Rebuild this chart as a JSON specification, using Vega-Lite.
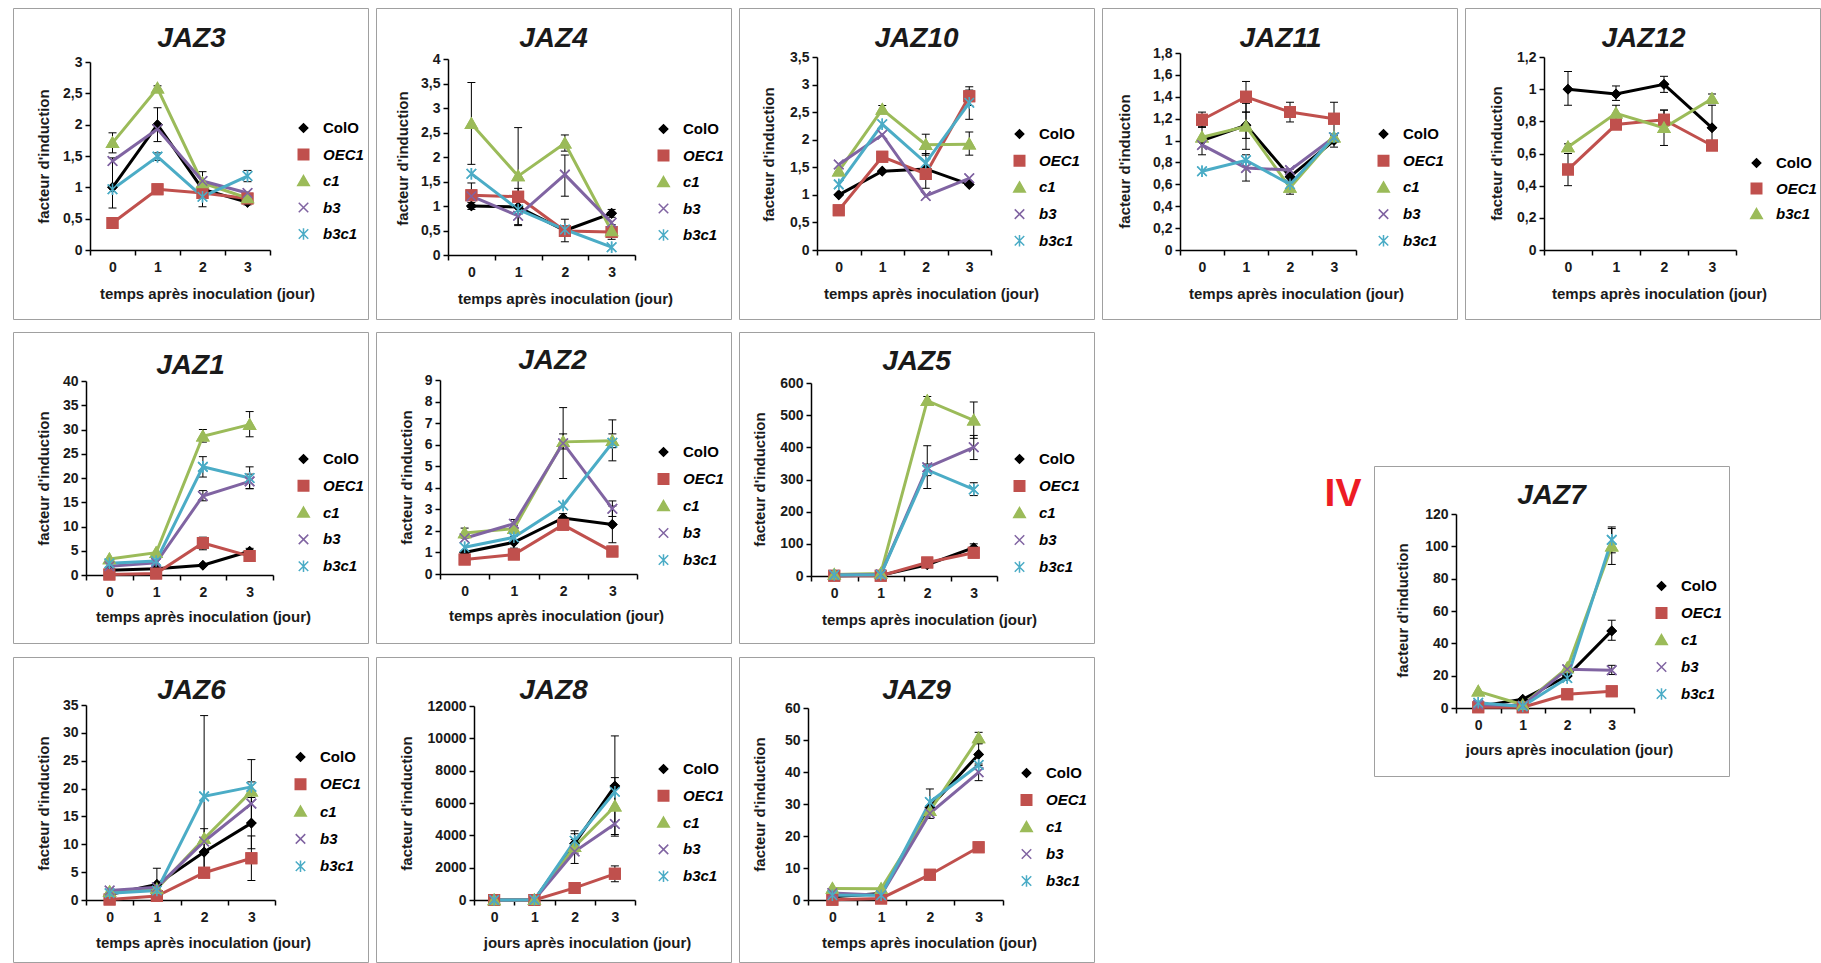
{
"$schema": "https://vega.github.io/schema/vega-lite/v6.json",
"padding": {"left": 12, "top": 7, "right": 0, "bottom": 0},
"config": {
 "font": "Liberation Sans",
 "view": {"stroke": "#a0a0a0", "strokeWidth": 1},
 "axis": {"labelFont": "Liberation Sans", "labelFontSize": 14, "labelFontWeight": "bold", "labelColor": "#1a1a1a", "titleFont": "Liberation Sans", "titleFontSize": 15, "titleFontWeight": "bold", "titleColor": "#1a1a1a", "domainColor": "black", "domainWidth": 1.5, "tickColor": "black", "tickWidth": 1.5, "tickSize": 5, "grid": false, "labelPadding": 3, "titleBaseline": "middle", "titleAlign": "center"},
 "axisX": {"labelPadding": 5, "tickBand": "extent", "labelAngle": 0},
 "axisY": {"titleAngle": 270, "labelExpr": "replace(format(datum.value, '~g'), '.', ',')"},
 "legend": {"labelFont": "Liberation Sans", "labelFontSize": 15, "labelFontWeight": "bold", "labelColor": "black", "symbolSize": 100, "symbolStrokeWidth": 1.5, "padding": 0, "labelOffset": 12, "clipHeight": 20},
 "title": {"font": "Liberation Sans", "fontSize": 28, "fontWeight": "bold", "fontStyle": "italic", "color": "#1a1a1a", "anchor": "middle", "offset": 0, "baseline": "alphabetic"}
},
"datasets": {"d": [
{"g":"JAZ3","s":"ColO","t":0,"v":1.0,"lo":0.67,"hi":1.47},{"g":"JAZ3","s":"ColO","t":1,"v":2.0,"lo":1.73,"hi":2.27},{"g":"JAZ3","s":"ColO","t":2,"v":0.97,"lo":0.69,"hi":1.25},{"g":"JAZ3","s":"ColO","t":3,"v":0.76,"lo":0.72,"hi":0.8},
{"g":"JAZ3","s":"OEC1","t":0,"v":0.43},{"g":"JAZ3","s":"OEC1","t":1,"v":0.97},{"g":"JAZ3","s":"OEC1","t":2,"v":0.91},{"g":"JAZ3","s":"OEC1","t":3,"v":0.82},
{"g":"JAZ3","s":"c1","t":0,"v":1.71,"lo":1.55,"hi":1.87},{"g":"JAZ3","s":"c1","t":1,"v":2.58,"lo":2.54,"hi":2.62},{"g":"JAZ3","s":"c1","t":2,"v":1.07},{"g":"JAZ3","s":"c1","t":3,"v":0.83},
{"g":"JAZ3","s":"b3","t":0,"v":1.42},{"g":"JAZ3","s":"b3","t":1,"v":1.93},{"g":"JAZ3","s":"b3","t":2,"v":1.1},{"g":"JAZ3","s":"b3","t":3,"v":0.91},
{"g":"JAZ3","s":"b3c1","t":0,"v":0.97},{"g":"JAZ3","s":"b3c1","t":1,"v":1.49,"lo":1.43,"hi":1.55},{"g":"JAZ3","s":"b3c1","t":2,"v":0.85},{"g":"JAZ3","s":"b3c1","t":3,"v":1.18,"lo":1.09,"hi":1.27},
{"g":"JAZ4","s":"ColO","t":0,"v":1.0,"lo":0.93,"hi":1.07},{"g":"JAZ4","s":"ColO","t":1,"v":0.98,"lo":0.6,"hi":1.36},{"g":"JAZ4","s":"ColO","t":2,"v":0.5,"lo":0.27,"hi":0.73},{"g":"JAZ4","s":"ColO","t":3,"v":0.85,"lo":0.77,"hi":0.93},
{"g":"JAZ4","s":"OEC1","t":0,"v":1.22,"lo":0.97,"hi":1.47},{"g":"JAZ4","s":"OEC1","t":1,"v":1.19},{"g":"JAZ4","s":"OEC1","t":2,"v":0.49},{"g":"JAZ4","s":"OEC1","t":3,"v":0.47,"lo":0.32,"hi":0.62},
{"g":"JAZ4","s":"c1","t":0,"v":2.68,"lo":1.85,"hi":3.52},{"g":"JAZ4","s":"c1","t":1,"v":1.61,"lo":0.62,"hi":2.6},{"g":"JAZ4","s":"c1","t":2,"v":2.28,"lo":2.12,"hi":2.45},{"g":"JAZ4","s":"c1","t":3,"v":0.49},
{"g":"JAZ4","s":"b3","t":0,"v":1.2},{"g":"JAZ4","s":"b3","t":1,"v":0.8},{"g":"JAZ4","s":"b3","t":2,"v":1.64,"lo":1.2,"hi":2.04},{"g":"JAZ4","s":"b3","t":3,"v":0.66},
{"g":"JAZ4","s":"b3c1","t":0,"v":1.66},{"g":"JAZ4","s":"b3c1","t":1,"v":0.93},{"g":"JAZ4","s":"b3c1","t":2,"v":0.52},{"g":"JAZ4","s":"b3c1","t":3,"v":0.16},
{"g":"JAZ10","s":"ColO","t":0,"v":1.0},{"g":"JAZ10","s":"ColO","t":1,"v":1.43},{"g":"JAZ10","s":"ColO","t":2,"v":1.47,"lo":1.12,"hi":1.75},{"g":"JAZ10","s":"ColO","t":3,"v":1.19},
{"g":"JAZ10","s":"OEC1","t":0,"v":0.72},{"g":"JAZ10","s":"OEC1","t":1,"v":1.69},{"g":"JAZ10","s":"OEC1","t":2,"v":1.38},{"g":"JAZ10","s":"OEC1","t":3,"v":2.79,"lo":2.62,"hi":2.96},
{"g":"JAZ10","s":"c1","t":0,"v":1.43},{"g":"JAZ10","s":"c1","t":1,"v":2.55,"lo":2.48,"hi":2.62},{"g":"JAZ10","s":"c1","t":2,"v":1.91,"lo":1.72,"hi":2.1},{"g":"JAZ10","s":"c1","t":3,"v":1.92,"lo":1.72,"hi":2.14},
{"g":"JAZ10","s":"b3","t":0,"v":1.55},{"g":"JAZ10","s":"b3","t":1,"v":2.09},{"g":"JAZ10","s":"b3","t":2,"v":0.98},{"g":"JAZ10","s":"b3","t":3,"v":1.3},
{"g":"JAZ10","s":"b3c1","t":0,"v":1.19},{"g":"JAZ10","s":"b3c1","t":1,"v":2.28},{"g":"JAZ10","s":"b3c1","t":2,"v":1.58},{"g":"JAZ10","s":"b3c1","t":3,"v":2.67,"lo":2.37,"hi":2.9},
{"g":"JAZ11","s":"ColO","t":0,"v":1.0,"lo":0.87,"hi":1.13},{"g":"JAZ11","s":"ColO","t":1,"v":1.14,"lo":1.02,"hi":1.26},{"g":"JAZ11","s":"ColO","t":2,"v":0.67,"lo":0.6,"hi":0.74},{"g":"JAZ11","s":"ColO","t":3,"v":1.0,"lo":0.94,"hi":1.06},
{"g":"JAZ11","s":"OEC1","t":0,"v":1.19,"lo":1.12,"hi":1.26},{"g":"JAZ11","s":"OEC1","t":1,"v":1.4,"lo":1.26,"hi":1.54},{"g":"JAZ11","s":"OEC1","t":2,"v":1.26,"lo":1.17,"hi":1.35},{"g":"JAZ11","s":"OEC1","t":3,"v":1.2,"lo":1.05,"hi":1.35},
{"g":"JAZ11","s":"c1","t":0,"v":1.03},{"g":"JAZ11","s":"c1","t":1,"v":1.13,"lo":0.92,"hi":1.34},{"g":"JAZ11","s":"c1","t":2,"v":0.57,"lo":0.51,"hi":0.63},{"g":"JAZ11","s":"c1","t":3,"v":1.03},
{"g":"JAZ11","s":"b3","t":0,"v":0.96},{"g":"JAZ11","s":"b3","t":1,"v":0.75,"lo":0.63,"hi":0.87},{"g":"JAZ11","s":"b3","t":2,"v":0.73},{"g":"JAZ11","s":"b3","t":3,"v":1.03},
{"g":"JAZ11","s":"b3c1","t":0,"v":0.72},{"g":"JAZ11","s":"b3c1","t":1,"v":0.82},{"g":"JAZ11","s":"b3c1","t":2,"v":0.6},{"g":"JAZ11","s":"b3c1","t":3,"v":1.03},
{"g":"JAZ12","s":"ColO","t":0,"v":1.0,"lo":0.9,"hi":1.11},{"g":"JAZ12","s":"ColO","t":1,"v":0.97,"lo":0.93,"hi":1.02},{"g":"JAZ12","s":"ColO","t":2,"v":1.03,"lo":0.98,"hi":1.08},{"g":"JAZ12","s":"ColO","t":3,"v":0.76,"lo":0.62,"hi":0.9},
{"g":"JAZ12","s":"OEC1","t":0,"v":0.5,"lo":0.4,"hi":0.6},{"g":"JAZ12","s":"OEC1","t":1,"v":0.78},{"g":"JAZ12","s":"OEC1","t":2,"v":0.81,"lo":0.75,"hi":0.87},{"g":"JAZ12","s":"OEC1","t":3,"v":0.65},
{"g":"JAZ12","s":"b3c1","t":0,"v":0.64,"lo":0.62,"hi":0.66},{"g":"JAZ12","s":"b3c1","t":1,"v":0.85,"lo":0.8,"hi":0.9},{"g":"JAZ12","s":"b3c1","t":2,"v":0.76,"lo":0.65,"hi":0.87},{"g":"JAZ12","s":"b3c1","t":3,"v":0.94,"lo":0.91,"hi":0.97},
{"g":"JAZ1","s":"ColO","t":0,"v":1.0},{"g":"JAZ1","s":"ColO","t":1,"v":1.3},{"g":"JAZ1","s":"ColO","t":2,"v":2.0},{"g":"JAZ1","s":"ColO","t":3,"v":4.9,"lo":4.3,"hi":5.5},
{"g":"JAZ1","s":"OEC1","t":0,"v":0.1},{"g":"JAZ1","s":"OEC1","t":1,"v":0.3},{"g":"JAZ1","s":"OEC1","t":2,"v":6.6,"lo":5.2,"hi":7.8},{"g":"JAZ1","s":"OEC1","t":3,"v":3.9},
{"g":"JAZ1","s":"c1","t":0,"v":3.3},{"g":"JAZ1","s":"c1","t":1,"v":4.6},{"g":"JAZ1","s":"c1","t":2,"v":28.6,"lo":27.4,"hi":30.0},{"g":"JAZ1","s":"c1","t":3,"v":31.0,"lo":28.5,"hi":33.7},
{"g":"JAZ1","s":"b3","t":0,"v":1.8},{"g":"JAZ1","s":"b3","t":1,"v":2.5},{"g":"JAZ1","s":"b3","t":2,"v":16.3,"lo":15.3,"hi":17.4},{"g":"JAZ1","s":"b3","t":3,"v":19.3,"lo":17.8,"hi":20.8},
{"g":"JAZ1","s":"b3c1","t":0,"v":2.4},{"g":"JAZ1","s":"b3c1","t":1,"v":2.9},{"g":"JAZ1","s":"b3c1","t":2,"v":22.3,"lo":20.2,"hi":24.4},{"g":"JAZ1","s":"b3c1","t":3,"v":20.0,"lo":17.8,"hi":22.3},
{"g":"JAZ2","s":"ColO","t":0,"v":1.0},{"g":"JAZ2","s":"ColO","t":1,"v":1.47,"lo":1.2,"hi":1.75},{"g":"JAZ2","s":"ColO","t":2,"v":2.6,"lo":2.4,"hi":2.8},{"g":"JAZ2","s":"ColO","t":3,"v":2.3,"lo":1.45,"hi":3.15},
{"g":"JAZ2","s":"OEC1","t":0,"v":0.67},{"g":"JAZ2","s":"OEC1","t":1,"v":0.9},{"g":"JAZ2","s":"OEC1","t":2,"v":2.28},{"g":"JAZ2","s":"OEC1","t":3,"v":1.04},
{"g":"JAZ2","s":"c1","t":0,"v":1.9,"lo":1.67,"hi":2.13},{"g":"JAZ2","s":"c1","t":1,"v":2.1,"lo":1.95,"hi":2.25},{"g":"JAZ2","s":"c1","t":2,"v":6.13,"lo":5.8,"hi":6.5},{"g":"JAZ2","s":"c1","t":3,"v":6.18,"lo":5.86,"hi":6.5},
{"g":"JAZ2","s":"b3","t":0,"v":1.66},{"g":"JAZ2","s":"b3","t":1,"v":2.33,"lo":2.13,"hi":2.53},{"g":"JAZ2","s":"b3","t":2,"v":6.07,"lo":4.43,"hi":7.72},{"g":"JAZ2","s":"b3","t":3,"v":3.03,"lo":2.67,"hi":3.39},
{"g":"JAZ2","s":"b3c1","t":0,"v":1.24},{"g":"JAZ2","s":"b3c1","t":1,"v":1.7},{"g":"JAZ2","s":"b3c1","t":2,"v":3.18},{"g":"JAZ2","s":"b3c1","t":3,"v":6.09,"lo":5.25,"hi":7.15},
{"g":"JAZ5","s":"ColO","t":0,"v":1},{"g":"JAZ5","s":"ColO","t":1,"v":2},{"g":"JAZ5","s":"ColO","t":2,"v":35},{"g":"JAZ5","s":"ColO","t":3,"v":88,"lo":78,"hi":100},
{"g":"JAZ5","s":"OEC1","t":0,"v":1},{"g":"JAZ5","s":"OEC1","t":1,"v":1},{"g":"JAZ5","s":"OEC1","t":2,"v":42},{"g":"JAZ5","s":"OEC1","t":3,"v":72},
{"g":"JAZ5","s":"c1","t":0,"v":5},{"g":"JAZ5","s":"c1","t":1,"v":8},{"g":"JAZ5","s":"c1","t":2,"v":545,"lo":532,"hi":558},{"g":"JAZ5","s":"c1","t":3,"v":484,"lo":428,"hi":541},
{"g":"JAZ5","s":"b3","t":0,"v":3},{"g":"JAZ5","s":"b3","t":1,"v":5},{"g":"JAZ5","s":"b3","t":2,"v":338,"lo":272,"hi":405},{"g":"JAZ5","s":"b3","t":3,"v":400,"lo":362,"hi":437},
{"g":"JAZ5","s":"b3c1","t":0,"v":3},{"g":"JAZ5","s":"b3c1","t":1,"v":4},{"g":"JAZ5","s":"b3c1","t":2,"v":330,"lo":312,"hi":348},{"g":"JAZ5","s":"b3c1","t":3,"v":269,"lo":250,"hi":290},
{"g":"JAZ6","s":"ColO","t":0,"v":1.0},{"g":"JAZ6","s":"ColO","t":1,"v":2.8,"lo":0.1,"hi":5.7},{"g":"JAZ6","s":"ColO","t":2,"v":8.6,"lo":4.4,"hi":12.8},{"g":"JAZ6","s":"ColO","t":3,"v":13.8,"lo":9.2,"hi":18.4},
{"g":"JAZ6","s":"OEC1","t":0,"v":0.1},{"g":"JAZ6","s":"OEC1","t":1,"v":0.7},{"g":"JAZ6","s":"OEC1","t":2,"v":4.9},{"g":"JAZ6","s":"OEC1","t":3,"v":7.5,"lo":3.5,"hi":11.5},
{"g":"JAZ6","s":"c1","t":0,"v":1.5},{"g":"JAZ6","s":"c1","t":1,"v":2.0},{"g":"JAZ6","s":"c1","t":2,"v":11.0},{"g":"JAZ6","s":"c1","t":3,"v":19.5,"lo":13.8,"hi":25.2},
{"g":"JAZ6","s":"b3","t":0,"v":1.7},{"g":"JAZ6","s":"b3","t":1,"v":2.3},{"g":"JAZ6","s":"b3","t":2,"v":10.5},{"g":"JAZ6","s":"b3","t":3,"v":17.3},
{"g":"JAZ6","s":"b3c1","t":0,"v":1.2},{"g":"JAZ6","s":"b3c1","t":1,"v":1.7},{"g":"JAZ6","s":"b3c1","t":2,"v":18.6,"lo":4.1,"hi":33.1},{"g":"JAZ6","s":"b3c1","t":3,"v":20.3,"lo":19.5,"hi":21.2},
{"g":"JAZ8","s":"ColO","t":0,"v":1},{"g":"JAZ8","s":"ColO","t":1,"v":10},{"g":"JAZ8","s":"ColO","t":2,"v":3500,"lo":2900,"hi":4100},{"g":"JAZ8","s":"ColO","t":3,"v":7050,"lo":3950,"hi":10150},
{"g":"JAZ8","s":"OEC1","t":0,"v":1},{"g":"JAZ8","s":"OEC1","t":1,"v":5},{"g":"JAZ8","s":"OEC1","t":2,"v":750},{"g":"JAZ8","s":"OEC1","t":3,"v":1620,"lo":1130,"hi":2110},
{"g":"JAZ8","s":"c1","t":0,"v":1},{"g":"JAZ8","s":"c1","t":1,"v":10},{"g":"JAZ8","s":"c1","t":2,"v":3300},{"g":"JAZ8","s":"c1","t":3,"v":5800,"lo":4050,"hi":7570},
{"g":"JAZ8","s":"b3","t":0,"v":1},{"g":"JAZ8","s":"b3","t":1,"v":10},{"g":"JAZ8","s":"b3","t":2,"v":3000,"lo":2260,"hi":3740},{"g":"JAZ8","s":"b3","t":3,"v":4700},
{"g":"JAZ8","s":"b3c1","t":0,"v":1},{"g":"JAZ8","s":"b3c1","t":1,"v":10},{"g":"JAZ8","s":"b3c1","t":2,"v":3660,"lo":3100,"hi":4280},{"g":"JAZ8","s":"b3c1","t":3,"v":6700},
{"g":"JAZ9","s":"ColO","t":0,"v":1.0},{"g":"JAZ9","s":"ColO","t":1,"v":2.0},{"g":"JAZ9","s":"ColO","t":2,"v":29.0},{"g":"JAZ9","s":"ColO","t":3,"v":45.5,"lo":42.0,"hi":49.0},
{"g":"JAZ9","s":"OEC1","t":0,"v":0.1},{"g":"JAZ9","s":"OEC1","t":1,"v":0.5},{"g":"JAZ9","s":"OEC1","t":2,"v":7.9},{"g":"JAZ9","s":"OEC1","t":3,"v":16.5},
{"g":"JAZ9","s":"c1","t":0,"v":3.6},{"g":"JAZ9","s":"c1","t":1,"v":3.5},{"g":"JAZ9","s":"c1","t":2,"v":27.9},{"g":"JAZ9","s":"c1","t":3,"v":50.6,"lo":48.8,"hi":52.4},
{"g":"JAZ9","s":"b3","t":0,"v":2.2},{"g":"JAZ9","s":"b3","t":1,"v":1.5},{"g":"JAZ9","s":"b3","t":2,"v":27.1,"lo":25.5,"hi":28.7},{"g":"JAZ9","s":"b3","t":3,"v":39.9,"lo":37.3,"hi":42.5},
{"g":"JAZ9","s":"b3c1","t":0,"v":1.5},{"g":"JAZ9","s":"b3c1","t":1,"v":1.5},{"g":"JAZ9","s":"b3c1","t":2,"v":30.6,"lo":26.5,"hi":34.7},{"g":"JAZ9","s":"b3c1","t":3,"v":42.2},
{"g":"JAZ7","s":"ColO","t":0,"v":1.0},{"g":"JAZ7","s":"ColO","t":1,"v":5.4},{"g":"JAZ7","s":"ColO","t":2,"v":19.8},{"g":"JAZ7","s":"ColO","t":3,"v":47.7,"lo":41.9,"hi":54.3},
{"g":"JAZ7","s":"OEC1","t":0,"v":0.5},{"g":"JAZ7","s":"OEC1","t":1,"v":0.5},{"g":"JAZ7","s":"OEC1","t":2,"v":8.5},{"g":"JAZ7","s":"OEC1","t":3,"v":10.3},
{"g":"JAZ7","s":"c1","t":0,"v":10.3},{"g":"JAZ7","s":"c1","t":1,"v":2.0},{"g":"JAZ7","s":"c1","t":2,"v":24.8},{"g":"JAZ7","s":"c1","t":3,"v":100,"lo":88.8,"hi":111},
{"g":"JAZ7","s":"b3","t":0,"v":2.0},{"g":"JAZ7","s":"b3","t":1,"v":1.5},{"g":"JAZ7","s":"b3","t":2,"v":24.0},{"g":"JAZ7","s":"b3","t":3,"v":23.3,"lo":20.7,"hi":26.4},
{"g":"JAZ7","s":"b3c1","t":0,"v":3.3},{"g":"JAZ7","s":"b3c1","t":1,"v":1.0},{"g":"JAZ7","s":"b3c1","t":2,"v":18.6},{"g":"JAZ7","s":"b3c1","t":3,"v":104,"lo":96,"hi":112}
]},
"spacing": 11,
"resolve": {"scale": {"x": "independent", "y": "independent", "color": "independent", "stroke": "independent", "shape": "independent"}, "axis": {"x": "independent", "y": "independent"}, "legend": {"color": "independent", "stroke": "independent", "shape": "independent"}},
"vconcat": [
{"hconcat": [
 {"width": 355, "height": 311, "data": {"name": "d"}, "transform": [{"filter": "datum.g == 'JAZ3'"}], "title": {"text": "JAZ3", "dx": 1, "dy": 49},
  "encoding": {
   "x": {"field": "t", "type": "ordinal", "scale": {"type": "band", "domain": [0,1,2,3], "range": [77,257], "paddingInner": 0, "paddingOuter": 0}, "axis": {"title": "temps après inoculation (jour)", "offset": -69, "titleX": 194, "titleY": 43}},
   "y": {"field": "v", "type": "quantitative", "scale": {"domain": [0,3], "range": [242,54], "nice": false, "zero": false}, "axis": {"title": "facteur d'induction", "offset": -77, "values": [0,0.5,1,1.5,2,2.5,3], "titleX": -47, "titleY": 148}}
  },
  "layer": [
   {"transform": [{"filter": "isValid(datum.lo)"}], "mark": {"type": "rule", "color": "black", "strokeWidth": 1}, "encoding": {"y": {"field": "lo", "type": "quantitative", "title": "facteur d'induction"}, "y2": {"field": "hi"}}},
   {"transform": [{"filter": "isValid(datum.lo)"}], "mark": {"type": "tick", "color": "black", "thickness": 1, "size": 8, "opacity": 1}, "encoding": {"y": {"field": "lo", "type": "quantitative", "title": "facteur d'induction"}}},
   {"transform": [{"filter": "isValid(datum.hi)"}], "mark": {"type": "tick", "color": "black", "thickness": 1, "size": 8, "opacity": 1}, "encoding": {"y": {"field": "hi", "type": "quantitative", "title": "facteur d'induction"}}},
   {"mark": {"type": "point", "filled": true, "size": 100, "strokeWidth": 1.5, "opacity": 1}, "encoding": {
     "color": {"field": "s", "type": "nominal", "scale": {"domain": ["ColO","OEC1","c1","b3","b3c1"], "range": ["#000000","#C0504D","#9BBB59","#8064A2","#4BACC6"]},
       "legend": {"orient": "none", "legendX": 283, "legendY": 110, "title": null, "rowPadding": 6.5, "labelFontStyle": {"expr": "datum.value == 'ColO' ? 'normal' : 'italic'"}}},
     "stroke": {"field": "s", "type": "nominal", "scale": {"domain": ["ColO","OEC1","c1","b3","b3c1"], "range": ["#000000","#C0504D","#9BBB59","#8064A2","#4BACC6"]}},
     "shape": {"field": "s", "type": "nominal", "legend": null, "scale": {"domain": ["ColO","OEC1","c1","b3","b3c1"], "range": ["M0,-0.85L0.85,0L0,0.85L-0.85,0Z","M-1.05,-1.05L1.05,-1.05L1.05,1.05L-1.05,1.05Z","M0,-1.1L1.15,0.9L-1.15,0.9Z","M-0.95,-0.95L0.95,0.95M-0.95,0.95L0.95,-0.95","M-0.95,-0.95L0.95,0.95M-0.95,0.95L0.95,-0.95M0,-1.15L0,1.15"]}}}},
   {"mark": {"type": "line", "strokeWidth": 3}, "encoding": {"color": {"field": "s", "type": "nominal"}}},
   {"mark": {"type": "point", "filled": true, "size": 100, "strokeWidth": 1.5, "opacity": 1}, "encoding": {"color": {"field": "s", "type": "nominal"}, "stroke": {"field": "s", "type": "nominal"}, "shape": {"field": "s", "type": "nominal", "legend": null}}}
  ]
 },
 {"width": 355, "height": 311, "data": {"name": "d"}, "transform": [{"filter": "datum.g == 'JAZ4'"}], "title": {"text": "JAZ4", "dx": 0, "dy": 49},
  "encoding": {
   "x": {"field": "t", "type": "ordinal", "scale": {"type": "band", "domain": [0,1,2,3], "range": [72,259], "paddingInner": 0, "paddingOuter": 0}, "axis": {"title": "temps après inoculation (jour)", "offset": -64, "titleX": 189, "titleY": 43}},
   "y": {"field": "v", "type": "quantitative", "scale": {"domain": [0,4], "range": [247,51], "nice": false, "zero": false}, "axis": {"title": "facteur d'induction", "offset": -72, "values": [0,0.5,1,1.5,2,2.5,3,3.5,4], "titleX": -46, "titleY": 150}}
  },
  "layer": [
   {"transform": [{"filter": "isValid(datum.lo)"}], "mark": {"type": "rule", "color": "black", "strokeWidth": 1}, "encoding": {"y": {"field": "lo", "type": "quantitative", "title": "facteur d'induction"}, "y2": {"field": "hi"}}},
   {"transform": [{"filter": "isValid(datum.lo)"}], "mark": {"type": "tick", "color": "black", "thickness": 1, "size": 8, "opacity": 1}, "encoding": {"y": {"field": "lo", "type": "quantitative", "title": "facteur d'induction"}}},
   {"transform": [{"filter": "isValid(datum.hi)"}], "mark": {"type": "tick", "color": "black", "thickness": 1, "size": 8, "opacity": 1}, "encoding": {"y": {"field": "hi", "type": "quantitative", "title": "facteur d'induction"}}},
   {"mark": {"type": "point", "filled": true, "size": 100, "strokeWidth": 1.5, "opacity": 1}, "encoding": {
     "color": {"field": "s", "type": "nominal", "scale": {"domain": ["ColO","OEC1","c1","b3","b3c1"], "range": ["#000000","#C0504D","#9BBB59","#8064A2","#4BACC6"]},
       "legend": {"orient": "none", "legendX": 280, "legendY": 111, "title": null, "rowPadding": 6.5, "labelFontStyle": {"expr": "datum.value == 'ColO' ? 'normal' : 'italic'"}}},
     "stroke": {"field": "s", "type": "nominal", "scale": {"domain": ["ColO","OEC1","c1","b3","b3c1"], "range": ["#000000","#C0504D","#9BBB59","#8064A2","#4BACC6"]}},
     "shape": {"field": "s", "type": "nominal", "legend": null, "scale": {"domain": ["ColO","OEC1","c1","b3","b3c1"], "range": ["M0,-0.85L0.85,0L0,0.85L-0.85,0Z","M-1.05,-1.05L1.05,-1.05L1.05,1.05L-1.05,1.05Z","M0,-1.1L1.15,0.9L-1.15,0.9Z","M-0.95,-0.95L0.95,0.95M-0.95,0.95L0.95,-0.95","M-0.95,-0.95L0.95,0.95M-0.95,0.95L0.95,-0.95M0,-1.15L0,1.15"]}}}},
   {"mark": {"type": "line", "strokeWidth": 3}, "encoding": {"color": {"field": "s", "type": "nominal"}}},
   {"mark": {"type": "point", "filled": true, "size": 100, "strokeWidth": 1.5, "opacity": 1}, "encoding": {"color": {"field": "s", "type": "nominal"}, "stroke": {"field": "s", "type": "nominal"}, "shape": {"field": "s", "type": "nominal", "legend": null}}}
  ]
 },
 {"width": 355, "height": 311, "data": {"name": "d"}, "transform": [{"filter": "datum.g == 'JAZ10'"}], "title": {"text": "JAZ10", "dx": 0, "dy": 49},
  "encoding": {
   "x": {"field": "t", "type": "ordinal", "scale": {"type": "band", "domain": [0,1,2,3], "range": [78,252], "paddingInner": 0, "paddingOuter": 0}, "axis": {"title": "temps après inoculation (jour)", "offset": -69, "titleX": 192, "titleY": 43}},
   "y": {"field": "v", "type": "quantitative", "scale": {"domain": [0,3.5], "range": [242,49], "nice": false, "zero": false}, "axis": {"title": "facteur d'induction", "offset": -78, "values": [0,0.5,1,1.5,2,2.5,3,3.5], "titleX": -49, "titleY": 146}}
  },
  "layer": [
   {"transform": [{"filter": "isValid(datum.lo)"}], "mark": {"type": "rule", "color": "black", "strokeWidth": 1}, "encoding": {"y": {"field": "lo", "type": "quantitative", "title": "facteur d'induction"}, "y2": {"field": "hi"}}},
   {"transform": [{"filter": "isValid(datum.lo)"}], "mark": {"type": "tick", "color": "black", "thickness": 1, "size": 8, "opacity": 1}, "encoding": {"y": {"field": "lo", "type": "quantitative", "title": "facteur d'induction"}}},
   {"transform": [{"filter": "isValid(datum.hi)"}], "mark": {"type": "tick", "color": "black", "thickness": 1, "size": 8, "opacity": 1}, "encoding": {"y": {"field": "hi", "type": "quantitative", "title": "facteur d'induction"}}},
   {"mark": {"type": "point", "filled": true, "size": 100, "strokeWidth": 1.5, "opacity": 1}, "encoding": {
     "color": {"field": "s", "type": "nominal", "scale": {"domain": ["ColO","OEC1","c1","b3","b3c1"], "range": ["#000000","#C0504D","#9BBB59","#8064A2","#4BACC6"]},
       "legend": {"orient": "none", "legendX": 273, "legendY": 116, "title": null, "rowPadding": 6.7, "labelFontStyle": {"expr": "datum.value == 'ColO' ? 'normal' : 'italic'"}}},
     "stroke": {"field": "s", "type": "nominal", "scale": {"domain": ["ColO","OEC1","c1","b3","b3c1"], "range": ["#000000","#C0504D","#9BBB59","#8064A2","#4BACC6"]}},
     "shape": {"field": "s", "type": "nominal", "legend": null, "scale": {"domain": ["ColO","OEC1","c1","b3","b3c1"], "range": ["M0,-0.85L0.85,0L0,0.85L-0.85,0Z","M-1.05,-1.05L1.05,-1.05L1.05,1.05L-1.05,1.05Z","M0,-1.1L1.15,0.9L-1.15,0.9Z","M-0.95,-0.95L0.95,0.95M-0.95,0.95L0.95,-0.95","M-0.95,-0.95L0.95,0.95M-0.95,0.95L0.95,-0.95M0,-1.15L0,1.15"]}}}},
   {"mark": {"type": "line", "strokeWidth": 3}, "encoding": {"color": {"field": "s", "type": "nominal"}}},
   {"mark": {"type": "point", "filled": true, "size": 100, "strokeWidth": 1.5, "opacity": 1}, "encoding": {"color": {"field": "s", "type": "nominal"}, "stroke": {"field": "s", "type": "nominal"}, "shape": {"field": "s", "type": "nominal", "legend": null}}}
  ]
 },
 {"width": 355, "height": 311, "data": {"name": "d"}, "transform": [{"filter": "datum.g == 'JAZ11'"}], "title": {"text": "JAZ11", "dx": 1, "dy": 49},
  "encoding": {
   "x": {"field": "t", "type": "ordinal", "scale": {"type": "band", "domain": [0,1,2,3], "range": [78,254], "paddingInner": 0, "paddingOuter": 0}, "axis": {"title": "temps après inoculation (jour)", "offset": -69, "titleX": 194, "titleY": 43}},
   "y": {"field": "v", "type": "quantitative", "scale": {"domain": [0,1.8], "range": [242,45], "nice": false, "zero": false}, "axis": {"title": "facteur d'induction", "offset": -78, "values": [0,0.2,0.4,0.6,0.8,1,1.2,1.4,1.6,1.8], "titleX": -56, "titleY": 153}}
  },
  "layer": [
   {"transform": [{"filter": "isValid(datum.lo)"}], "mark": {"type": "rule", "color": "black", "strokeWidth": 1}, "encoding": {"y": {"field": "lo", "type": "quantitative", "title": "facteur d'induction"}, "y2": {"field": "hi"}}},
   {"transform": [{"filter": "isValid(datum.lo)"}], "mark": {"type": "tick", "color": "black", "thickness": 1, "size": 8, "opacity": 1}, "encoding": {"y": {"field": "lo", "type": "quantitative", "title": "facteur d'induction"}}},
   {"transform": [{"filter": "isValid(datum.hi)"}], "mark": {"type": "tick", "color": "black", "thickness": 1, "size": 8, "opacity": 1}, "encoding": {"y": {"field": "hi", "type": "quantitative", "title": "facteur d'induction"}}},
   {"mark": {"type": "point", "filled": true, "size": 100, "strokeWidth": 1.5, "opacity": 1}, "encoding": {
     "color": {"field": "s", "type": "nominal", "scale": {"domain": ["ColO","OEC1","c1","b3","b3c1"], "range": ["#000000","#C0504D","#9BBB59","#8064A2","#4BACC6"]},
       "legend": {"orient": "none", "legendX": 274, "legendY": 116, "title": null, "rowPadding": 6.7, "labelFontStyle": {"expr": "datum.value == 'ColO' ? 'normal' : 'italic'"}}},
     "stroke": {"field": "s", "type": "nominal", "scale": {"domain": ["ColO","OEC1","c1","b3","b3c1"], "range": ["#000000","#C0504D","#9BBB59","#8064A2","#4BACC6"]}},
     "shape": {"field": "s", "type": "nominal", "legend": null, "scale": {"domain": ["ColO","OEC1","c1","b3","b3c1"], "range": ["M0,-0.85L0.85,0L0,0.85L-0.85,0Z","M-1.05,-1.05L1.05,-1.05L1.05,1.05L-1.05,1.05Z","M0,-1.1L1.15,0.9L-1.15,0.9Z","M-0.95,-0.95L0.95,0.95M-0.95,0.95L0.95,-0.95","M-0.95,-0.95L0.95,0.95M-0.95,0.95L0.95,-0.95M0,-1.15L0,1.15"]}}}},
   {"mark": {"type": "line", "strokeWidth": 3}, "encoding": {"color": {"field": "s", "type": "nominal"}}},
   {"mark": {"type": "point", "filled": true, "size": 100, "strokeWidth": 1.5, "opacity": 1}, "encoding": {"color": {"field": "s", "type": "nominal"}, "stroke": {"field": "s", "type": "nominal"}, "shape": {"field": "s", "type": "nominal", "legend": null}}}
  ]
 },
 {"width": 355, "height": 311, "data": {"name": "d"}, "transform": [{"filter": "datum.g == 'JAZ12'"}], "title": {"text": "JAZ12", "dx": 1, "dy": 49},
  "encoding": {
   "x": {"field": "t", "type": "ordinal", "scale": {"type": "band", "domain": [0,1,2,3], "range": [79,271], "paddingInner": 0, "paddingOuter": 0}, "axis": {"title": "temps après inoculation (jour)", "offset": -69, "titleX": 194, "titleY": 43}},
   "y": {"field": "v", "type": "quantitative", "scale": {"domain": [0,1.2], "range": [242,49], "nice": false, "zero": false}, "axis": {"title": "facteur d'induction", "offset": -79, "values": [0,0.2,0.4,0.6,0.8,1,1.2], "titleX": -48, "titleY": 145}}
  },
  "layer": [
   {"transform": [{"filter": "isValid(datum.lo)"}], "mark": {"type": "rule", "color": "black", "strokeWidth": 1}, "encoding": {"y": {"field": "lo", "type": "quantitative", "title": "facteur d'induction"}, "y2": {"field": "hi"}}},
   {"transform": [{"filter": "isValid(datum.lo)"}], "mark": {"type": "tick", "color": "black", "thickness": 1, "size": 8, "opacity": 1}, "encoding": {"y": {"field": "lo", "type": "quantitative", "title": "facteur d'induction"}}},
   {"transform": [{"filter": "isValid(datum.hi)"}], "mark": {"type": "tick", "color": "black", "thickness": 1, "size": 8, "opacity": 1}, "encoding": {"y": {"field": "hi", "type": "quantitative", "title": "facteur d'induction"}}},
   {"mark": {"type": "point", "filled": true, "size": 100, "strokeWidth": 1.5, "opacity": 1}, "encoding": {
     "color": {"field": "s", "type": "nominal", "scale": {"domain": ["ColO","OEC1","b3c1"], "range": ["#000000","#C0504D","#9BBB59"]},
       "legend": {"orient": "none", "legendX": 284, "legendY": 145, "title": null, "rowPadding": 5.5, "labelFontStyle": {"expr": "datum.value == 'ColO' ? 'normal' : 'italic'"}}},
     "stroke": {"field": "s", "type": "nominal", "scale": {"domain": ["ColO","OEC1","b3c1"], "range": ["#000000","#C0504D","#9BBB59"]}},
     "shape": {"field": "s", "type": "nominal", "legend": null, "scale": {"domain": ["ColO","OEC1","b3c1"], "range": ["M0,-0.85L0.85,0L0,0.85L-0.85,0Z","M-1.05,-1.05L1.05,-1.05L1.05,1.05L-1.05,1.05Z","M0,-1.1L1.15,0.9L-1.15,0.9Z"]}}}},
   {"mark": {"type": "line", "strokeWidth": 3}, "encoding": {"color": {"field": "s", "type": "nominal"}}},
   {"mark": {"type": "point", "filled": true, "size": 100, "strokeWidth": 1.5, "opacity": 1}, "encoding": {"color": {"field": "s", "type": "nominal"}, "stroke": {"field": "s", "type": "nominal"}, "shape": {"field": "s", "type": "nominal", "legend": null}}}
  ]
 }
], "spacing": 8, "bounds": "flush", "resolve": {"scale": {"x": "independent", "y": "independent", "color": "independent", "stroke": "independent", "shape": "independent"}, "axis": {"x": "independent", "y": "independent"}, "legend": {"color": "independent", "stroke": "independent", "shape": "independent"}}},
{"hconcat": [
 {"vconcat": [
  {"hconcat": [
   {"width": 355, "height": 311, "data": {"name": "d"}, "transform": [{"filter": "datum.g == 'JAZ1'"}], "title": {"text": "JAZ1", "dx": 0, "dy": 52},
    "encoding": {
     "x": {"field": "t", "type": "ordinal", "scale": {"type": "band", "domain": [0,1,2,3], "range": [73,260], "paddingInner": 0, "paddingOuter": 0}, "axis": {"title": "temps après inoculation (jour)", "offset": -68, "titleX": 190, "titleY": 41}},
     "y": {"field": "v", "type": "quantitative", "scale": {"domain": [0,40], "range": [243,49], "nice": false, "zero": false}, "axis": {"title": "facteur d'induction", "offset": -73, "values": [0,5,10,15,20,25,30,35,40], "titleX": -43, "titleY": 146}}
    },
    "layer": [
     {"transform": [{"filter": "isValid(datum.lo)"}], "mark": {"type": "rule", "color": "black", "strokeWidth": 1}, "encoding": {"y": {"field": "lo", "type": "quantitative", "title": "facteur d'induction"}, "y2": {"field": "hi"}}},
     {"transform": [{"filter": "isValid(datum.lo)"}], "mark": {"type": "tick", "color": "black", "thickness": 1, "size": 8, "opacity": 1}, "encoding": {"y": {"field": "lo", "type": "quantitative", "title": "facteur d'induction"}}},
     {"transform": [{"filter": "isValid(datum.hi)"}], "mark": {"type": "tick", "color": "black", "thickness": 1, "size": 8, "opacity": 1}, "encoding": {"y": {"field": "hi", "type": "quantitative", "title": "facteur d'induction"}}},
     {"mark": {"type": "point", "filled": true, "size": 100, "strokeWidth": 1.5, "opacity": 1}, "encoding": {
       "color": {"field": "s", "type": "nominal", "scale": {"domain": ["ColO","OEC1","c1","b3","b3c1"], "range": ["#000000","#C0504D","#9BBB59","#8064A2","#4BACC6"]},
         "legend": {"orient": "none", "legendX": 283, "legendY": 117, "title": null, "rowPadding": 6.8, "labelFontStyle": {"expr": "datum.value == 'ColO' ? 'normal' : 'italic'"}}},
       "stroke": {"field": "s", "type": "nominal", "scale": {"domain": ["ColO","OEC1","c1","b3","b3c1"], "range": ["#000000","#C0504D","#9BBB59","#8064A2","#4BACC6"]}},
       "shape": {"field": "s", "type": "nominal", "legend": null, "scale": {"domain": ["ColO","OEC1","c1","b3","b3c1"], "range": ["M0,-0.85L0.85,0L0,0.85L-0.85,0Z","M-1.05,-1.05L1.05,-1.05L1.05,1.05L-1.05,1.05Z","M0,-1.1L1.15,0.9L-1.15,0.9Z","M-0.95,-0.95L0.95,0.95M-0.95,0.95L0.95,-0.95","M-0.95,-0.95L0.95,0.95M-0.95,0.95L0.95,-0.95M0,-1.15L0,1.15"]}}}},
     {"mark": {"type": "line", "strokeWidth": 3}, "encoding": {"color": {"field": "s", "type": "nominal"}}},
     {"mark": {"type": "point", "filled": true, "size": 100, "strokeWidth": 1.5, "opacity": 1}, "encoding": {"color": {"field": "s", "type": "nominal"}, "stroke": {"field": "s", "type": "nominal"}, "shape": {"field": "s", "type": "nominal", "legend": null}}}
    ]
   },
   {"width": 355, "height": 311, "data": {"name": "d"}, "transform": [{"filter": "datum.g == 'JAZ2'"}], "title": {"text": "JAZ2", "dx": -1, "dy": 47},
    "encoding": {
     "x": {"field": "t", "type": "ordinal", "scale": {"type": "band", "domain": [0,1,2,3], "range": [64,261], "paddingInner": 0, "paddingOuter": 0}, "axis": {"title": "temps après inoculation (jour)", "offset": -69, "titleX": 180, "titleY": 41}},
     "y": {"field": "v", "type": "quantitative", "scale": {"domain": [0,9], "range": [242,48], "nice": false, "zero": false}, "axis": {"title": "facteur d'induction", "offset": -64, "values": [0,1,2,3,4,5,6,7,8,9], "titleX": -34, "titleY": 145}}
    },
    "layer": [
     {"transform": [{"filter": "isValid(datum.lo)"}], "mark": {"type": "rule", "color": "black", "strokeWidth": 1}, "encoding": {"y": {"field": "lo", "type": "quantitative", "title": "facteur d'induction"}, "y2": {"field": "hi"}}},
     {"transform": [{"filter": "isValid(datum.lo)"}], "mark": {"type": "tick", "color": "black", "thickness": 1, "size": 8, "opacity": 1}, "encoding": {"y": {"field": "lo", "type": "quantitative", "title": "facteur d'induction"}}},
     {"transform": [{"filter": "isValid(datum.hi)"}], "mark": {"type": "tick", "color": "black", "thickness": 1, "size": 8, "opacity": 1}, "encoding": {"y": {"field": "hi", "type": "quantitative", "title": "facteur d'induction"}}},
     {"mark": {"type": "point", "filled": true, "size": 100, "strokeWidth": 1.5, "opacity": 1}, "encoding": {
       "color": {"field": "s", "type": "nominal", "scale": {"domain": ["ColO","OEC1","c1","b3","b3c1"], "range": ["#000000","#C0504D","#9BBB59","#8064A2","#4BACC6"]},
         "legend": {"orient": "none", "legendX": 280, "legendY": 110, "title": null, "rowPadding": 7, "labelFontStyle": {"expr": "datum.value == 'ColO' ? 'normal' : 'italic'"}}},
       "stroke": {"field": "s", "type": "nominal", "scale": {"domain": ["ColO","OEC1","c1","b3","b3c1"], "range": ["#000000","#C0504D","#9BBB59","#8064A2","#4BACC6"]}},
       "shape": {"field": "s", "type": "nominal", "legend": null, "scale": {"domain": ["ColO","OEC1","c1","b3","b3c1"], "range": ["M0,-0.85L0.85,0L0,0.85L-0.85,0Z","M-1.05,-1.05L1.05,-1.05L1.05,1.05L-1.05,1.05Z","M0,-1.1L1.15,0.9L-1.15,0.9Z","M-0.95,-0.95L0.95,0.95M-0.95,0.95L0.95,-0.95","M-0.95,-0.95L0.95,0.95M-0.95,0.95L0.95,-0.95M0,-1.15L0,1.15"]}}}},
     {"mark": {"type": "line", "strokeWidth": 3}, "encoding": {"color": {"field": "s", "type": "nominal"}}},
     {"mark": {"type": "point", "filled": true, "size": 100, "strokeWidth": 1.5, "opacity": 1}, "encoding": {"color": {"field": "s", "type": "nominal"}, "stroke": {"field": "s", "type": "nominal"}, "shape": {"field": "s", "type": "nominal", "legend": null}}}
    ]
   },
   {"width": 355, "height": 311, "data": {"name": "d"}, "transform": [{"filter": "datum.g == 'JAZ5'"}], "title": {"text": "JAZ5", "dx": 0, "dy": 48},
    "encoding": {
     "x": {"field": "t", "type": "ordinal", "scale": {"type": "band", "domain": [0,1,2,3], "range": [72,258], "paddingInner": 0, "paddingOuter": 0}, "axis": {"title": "temps après inoculation (jour)", "offset": -67, "titleX": 190, "titleY": 43}},
     "y": {"field": "v", "type": "quantitative", "scale": {"domain": [0,600], "range": [244,51], "nice": false, "zero": false}, "axis": {"title": "facteur d'induction", "offset": -72, "values": [0,100,200,300,400,500,600], "titleX": -52, "titleY": 147}}
    },
    "layer": [
     {"transform": [{"filter": "isValid(datum.lo)"}], "mark": {"type": "rule", "color": "black", "strokeWidth": 1}, "encoding": {"y": {"field": "lo", "type": "quantitative", "title": "facteur d'induction"}, "y2": {"field": "hi"}}},
     {"transform": [{"filter": "isValid(datum.lo)"}], "mark": {"type": "tick", "color": "black", "thickness": 1, "size": 8, "opacity": 1}, "encoding": {"y": {"field": "lo", "type": "quantitative", "title": "facteur d'induction"}}},
     {"transform": [{"filter": "isValid(datum.hi)"}], "mark": {"type": "tick", "color": "black", "thickness": 1, "size": 8, "opacity": 1}, "encoding": {"y": {"field": "hi", "type": "quantitative", "title": "facteur d'induction"}}},
     {"mark": {"type": "point", "filled": true, "size": 100, "strokeWidth": 1.5, "opacity": 1}, "encoding": {
       "color": {"field": "s", "type": "nominal", "scale": {"domain": ["ColO","OEC1","c1","b3","b3c1"], "range": ["#000000","#C0504D","#9BBB59","#8064A2","#4BACC6"]},
         "legend": {"orient": "none", "legendX": 273, "legendY": 117, "title": null, "rowPadding": 7, "labelFontStyle": {"expr": "datum.value == 'ColO' ? 'normal' : 'italic'"}}},
       "stroke": {"field": "s", "type": "nominal", "scale": {"domain": ["ColO","OEC1","c1","b3","b3c1"], "range": ["#000000","#C0504D","#9BBB59","#8064A2","#4BACC6"]}},
       "shape": {"field": "s", "type": "nominal", "legend": null, "scale": {"domain": ["ColO","OEC1","c1","b3","b3c1"], "range": ["M0,-0.85L0.85,0L0,0.85L-0.85,0Z","M-1.05,-1.05L1.05,-1.05L1.05,1.05L-1.05,1.05Z","M0,-1.1L1.15,0.9L-1.15,0.9Z","M-0.95,-0.95L0.95,0.95M-0.95,0.95L0.95,-0.95","M-0.95,-0.95L0.95,0.95M-0.95,0.95L0.95,-0.95M0,-1.15L0,1.15"]}}}},
     {"mark": {"type": "line", "strokeWidth": 3}, "encoding": {"color": {"field": "s", "type": "nominal"}}},
     {"mark": {"type": "point", "filled": true, "size": 100, "strokeWidth": 1.5, "opacity": 1}, "encoding": {"color": {"field": "s", "type": "nominal"}, "stroke": {"field": "s", "type": "nominal"}, "shape": {"field": "s", "type": "nominal", "legend": null}}}
    ]
   }
  ], "spacing": 8, "bounds": "flush", "resolve": {"scale": {"x": "independent", "y": "independent", "color": "independent", "stroke": "independent", "shape": "independent"}, "axis": {"x": "independent", "y": "independent"}, "legend": {"color": "independent", "stroke": "independent", "shape": "independent"}}},
  {"hconcat": [
   {"width": 355, "height": 305, "data": {"name": "d"}, "transform": [{"filter": "datum.g == 'JAZ6'"}], "title": {"text": "JAZ6", "dx": 1, "dy": 52},
    "encoding": {
     "x": {"field": "t", "type": "ordinal", "scale": {"type": "band", "domain": [0,1,2,3], "range": [73,262], "paddingInner": 0, "paddingOuter": 0}, "axis": {"title": "temps après inoculation (jour)", "offset": -62, "titleX": 190, "titleY": 42}},
     "y": {"field": "v", "type": "quantitative", "scale": {"domain": [0,35], "range": [243,48], "nice": false, "zero": false}, "axis": {"title": "facteur d'induction", "offset": -73, "values": [0,5,10,15,20,25,30,35], "titleX": -43, "titleY": 146}}
    },
    "layer": [
     {"transform": [{"filter": "isValid(datum.lo)"}], "mark": {"type": "rule", "color": "black", "strokeWidth": 1}, "encoding": {"y": {"field": "lo", "type": "quantitative", "title": "facteur d'induction"}, "y2": {"field": "hi"}}},
     {"transform": [{"filter": "isValid(datum.lo)"}], "mark": {"type": "tick", "color": "black", "thickness": 1, "size": 8, "opacity": 1}, "encoding": {"y": {"field": "lo", "type": "quantitative", "title": "facteur d'induction"}}},
     {"transform": [{"filter": "isValid(datum.hi)"}], "mark": {"type": "tick", "color": "black", "thickness": 1, "size": 8, "opacity": 1}, "encoding": {"y": {"field": "hi", "type": "quantitative", "title": "facteur d'induction"}}},
     {"mark": {"type": "point", "filled": true, "size": 100, "strokeWidth": 1.5, "opacity": 1}, "encoding": {
       "color": {"field": "s", "type": "nominal", "scale": {"domain": ["ColO","OEC1","c1","b3","b3c1"], "range": ["#000000","#C0504D","#9BBB59","#8064A2","#4BACC6"]},
         "legend": {"orient": "none", "legendX": 280, "legendY": 90, "title": null, "rowPadding": 7.3, "labelFontStyle": {"expr": "datum.value == 'ColO' ? 'normal' : 'italic'"}}},
       "stroke": {"field": "s", "type": "nominal", "scale": {"domain": ["ColO","OEC1","c1","b3","b3c1"], "range": ["#000000","#C0504D","#9BBB59","#8064A2","#4BACC6"]}},
       "shape": {"field": "s", "type": "nominal", "legend": null, "scale": {"domain": ["ColO","OEC1","c1","b3","b3c1"], "range": ["M0,-0.85L0.85,0L0,0.85L-0.85,0Z","M-1.05,-1.05L1.05,-1.05L1.05,1.05L-1.05,1.05Z","M0,-1.1L1.15,0.9L-1.15,0.9Z","M-0.95,-0.95L0.95,0.95M-0.95,0.95L0.95,-0.95","M-0.95,-0.95L0.95,0.95M-0.95,0.95L0.95,-0.95M0,-1.15L0,1.15"]}}}},
     {"mark": {"type": "line", "strokeWidth": 3}, "encoding": {"color": {"field": "s", "type": "nominal"}}},
     {"mark": {"type": "point", "filled": true, "size": 100, "strokeWidth": 1.5, "opacity": 1}, "encoding": {"color": {"field": "s", "type": "nominal"}, "stroke": {"field": "s", "type": "nominal"}, "shape": {"field": "s", "type": "nominal", "legend": null}}}
    ]
   },
   {"width": 355, "height": 305, "data": {"name": "d"}, "transform": [{"filter": "datum.g == 'JAZ8'"}], "title": {"text": "JAZ8", "dx": 0, "dy": 52},
    "encoding": {
     "x": {"field": "t", "type": "ordinal", "scale": {"type": "band", "domain": [0,1,2,3], "range": [98,259], "paddingInner": 0, "paddingOuter": 0}, "axis": {"title": "jours après inoculation (jour)", "offset": -62, "titleX": 211, "titleY": 42}},
     "y": {"field": "v", "type": "quantitative", "scale": {"domain": [0,12000], "range": [243,49], "nice": false, "zero": false}, "axis": {"title": "facteur d'induction", "offset": -98, "values": [0,2000,4000,6000,8000,10000,12000], "titleX": -68, "titleY": 146}}
    },
    "layer": [
     {"transform": [{"filter": "isValid(datum.lo)"}], "mark": {"type": "rule", "color": "black", "strokeWidth": 1}, "encoding": {"y": {"field": "lo", "type": "quantitative", "title": "facteur d'induction"}, "y2": {"field": "hi"}}},
     {"transform": [{"filter": "isValid(datum.lo)"}], "mark": {"type": "tick", "color": "black", "thickness": 1, "size": 8, "opacity": 1}, "encoding": {"y": {"field": "lo", "type": "quantitative", "title": "facteur d'induction"}}},
     {"transform": [{"filter": "isValid(datum.hi)"}], "mark": {"type": "tick", "color": "black", "thickness": 1, "size": 8, "opacity": 1}, "encoding": {"y": {"field": "hi", "type": "quantitative", "title": "facteur d'induction"}}},
     {"mark": {"type": "point", "filled": true, "size": 100, "strokeWidth": 1.5, "opacity": 1}, "encoding": {
       "color": {"field": "s", "type": "nominal", "scale": {"domain": ["ColO","OEC1","c1","b3","b3c1"], "range": ["#000000","#C0504D","#9BBB59","#8064A2","#4BACC6"]},
         "legend": {"orient": "none", "legendX": 280, "legendY": 102, "title": null, "rowPadding": 6.8, "labelFontStyle": {"expr": "datum.value == 'ColO' ? 'normal' : 'italic'"}}},
       "stroke": {"field": "s", "type": "nominal", "scale": {"domain": ["ColO","OEC1","c1","b3","b3c1"], "range": ["#000000","#C0504D","#9BBB59","#8064A2","#4BACC6"]}},
       "shape": {"field": "s", "type": "nominal", "legend": null, "scale": {"domain": ["ColO","OEC1","c1","b3","b3c1"], "range": ["M0,-0.85L0.85,0L0,0.85L-0.85,0Z","M-1.05,-1.05L1.05,-1.05L1.05,1.05L-1.05,1.05Z","M0,-1.1L1.15,0.9L-1.15,0.9Z","M-0.95,-0.95L0.95,0.95M-0.95,0.95L0.95,-0.95","M-0.95,-0.95L0.95,0.95M-0.95,0.95L0.95,-0.95M0,-1.15L0,1.15"]}}}},
     {"mark": {"type": "line", "strokeWidth": 3}, "encoding": {"color": {"field": "s", "type": "nominal"}}},
     {"mark": {"type": "point", "filled": true, "size": 100, "strokeWidth": 1.5, "opacity": 1}, "encoding": {"color": {"field": "s", "type": "nominal"}, "stroke": {"field": "s", "type": "nominal"}, "shape": {"field": "s", "type": "nominal", "legend": null}}}
    ]
   },
   {"width": 355, "height": 305, "data": {"name": "d"}, "transform": [{"filter": "datum.g == 'JAZ9'"}], "title": {"text": "JAZ9", "dx": 0, "dy": 52},
    "encoding": {
     "x": {"field": "t", "type": "ordinal", "scale": {"type": "band", "domain": [0,1,2,3], "range": [69,264], "paddingInner": 0, "paddingOuter": 0}, "axis": {"title": "temps après inoculation (jour)", "offset": -62, "titleX": 190, "titleY": 42}},
     "y": {"field": "v", "type": "quantitative", "scale": {"domain": [0,60], "range": [243,51], "nice": false, "zero": false}, "axis": {"title": "facteur d'induction", "offset": -69, "values": [0,10,20,30,40,50,60], "titleX": -49, "titleY": 147}}
    },
    "layer": [
     {"transform": [{"filter": "isValid(datum.lo)"}], "mark": {"type": "rule", "color": "black", "strokeWidth": 1}, "encoding": {"y": {"field": "lo", "type": "quantitative", "title": "facteur d'induction"}, "y2": {"field": "hi"}}},
     {"transform": [{"filter": "isValid(datum.lo)"}], "mark": {"type": "tick", "color": "black", "thickness": 1, "size": 8, "opacity": 1}, "encoding": {"y": {"field": "lo", "type": "quantitative", "title": "facteur d'induction"}}},
     {"transform": [{"filter": "isValid(datum.hi)"}], "mark": {"type": "tick", "color": "black", "thickness": 1, "size": 8, "opacity": 1}, "encoding": {"y": {"field": "hi", "type": "quantitative", "title": "facteur d'induction"}}},
     {"mark": {"type": "point", "filled": true, "size": 100, "strokeWidth": 1.5, "opacity": 1}, "encoding": {
       "color": {"field": "s", "type": "nominal", "scale": {"domain": ["ColO","OEC1","c1","b3","b3c1"], "range": ["#000000","#C0504D","#9BBB59","#8064A2","#4BACC6"]},
         "legend": {"orient": "none", "legendX": 280, "legendY": 106, "title": null, "rowPadding": 7, "labelFontStyle": {"expr": "datum.value == 'ColO' ? 'normal' : 'italic'"}}},
       "stroke": {"field": "s", "type": "nominal", "scale": {"domain": ["ColO","OEC1","c1","b3","b3c1"], "range": ["#000000","#C0504D","#9BBB59","#8064A2","#4BACC6"]}},
       "shape": {"field": "s", "type": "nominal", "legend": null, "scale": {"domain": ["ColO","OEC1","c1","b3","b3c1"], "range": ["M0,-0.85L0.85,0L0,0.85L-0.85,0Z","M-1.05,-1.05L1.05,-1.05L1.05,1.05L-1.05,1.05Z","M0,-1.1L1.15,0.9L-1.15,0.9Z","M-0.95,-0.95L0.95,0.95M-0.95,0.95L0.95,-0.95","M-0.95,-0.95L0.95,0.95M-0.95,0.95L0.95,-0.95M0,-1.15L0,1.15"]}}}},
     {"mark": {"type": "line", "strokeWidth": 3}, "encoding": {"color": {"field": "s", "type": "nominal"}}},
     {"mark": {"type": "point", "filled": true, "size": 100, "strokeWidth": 1.5, "opacity": 1}, "encoding": {"color": {"field": "s", "type": "nominal"}, "stroke": {"field": "s", "type": "nominal"}, "shape": {"field": "s", "type": "nominal", "legend": null}}}
    ]
   }
  ], "spacing": 8, "bounds": "flush", "resolve": {"scale": {"x": "independent", "y": "independent", "color": "independent", "stroke": "independent", "shape": "independent"}, "axis": {"x": "independent", "y": "independent"}, "legend": {"color": "independent", "stroke": "independent", "shape": "independent"}}}
 ], "spacing": 12, "resolve": {"scale": {"x": "independent", "y": "independent", "color": "independent", "stroke": "independent", "shape": "independent"}, "axis": {"x": "independent", "y": "independent"}, "legend": {"color": "independent", "stroke": "independent", "shape": "independent"}}},
 {"hconcat": [
  {"vconcat": [
   {"width": 40, "height": 124, "data": {"values": [{"label": ""}]}, "mark": {"type": "text"}, "encoding": {"text": {"field": "label"}}, "view": {"stroke": null}},
   {"width": 40, "height": 56, "data": {"values": [{"label": "IV"}]}, "mark": {"type": "text", "font": "Liberation Sans", "fontSize": 39, "fontWeight": "bold", "color": "#ED1C24", "align": "center", "baseline": "middle"}, "encoding": {"text": {"field": "label"}}, "view": {"stroke": null}}
  ], "spacing": 10, "bounds": "flush"},
  {"vconcat": [
   {"width": 10, "height": 124, "data": {"values": [{"label": ""}]}, "mark": {"type": "text"}, "encoding": {"text": {"field": "label"}}, "view": {"stroke": null}},
   {"width": 355, "height": 310, "data": {"name": "d"}, "transform": [{"filter": "datum.g == 'JAZ7'"}], "title": {"text": "JAZ7", "dx": 0, "dy": 48},
    "encoding": {
     "x": {"field": "t", "type": "ordinal", "scale": {"type": "band", "domain": [0,1,2,3], "range": [82,260], "paddingInner": 0, "paddingOuter": 0}, "axis": {"title": "jours après inoculation (jour)", "offset": -68, "titleX": 195, "titleY": 41}},
     "y": {"field": "v", "type": "quantitative", "scale": {"domain": [0,120], "range": [242,48], "nice": false, "zero": false}, "axis": {"title": "facteur d'induction", "offset": -82, "values": [0,20,40,60,80,100,120], "titleX": -54, "titleY": 144}}
    },
    "layer": [
     {"transform": [{"filter": "isValid(datum.lo)"}], "mark": {"type": "rule", "color": "black", "strokeWidth": 1}, "encoding": {"y": {"field": "lo", "type": "quantitative", "title": "facteur d'induction"}, "y2": {"field": "hi"}}},
     {"transform": [{"filter": "isValid(datum.lo)"}], "mark": {"type": "tick", "color": "black", "thickness": 1, "size": 8, "opacity": 1}, "encoding": {"y": {"field": "lo", "type": "quantitative", "title": "facteur d'induction"}}},
     {"transform": [{"filter": "isValid(datum.hi)"}], "mark": {"type": "tick", "color": "black", "thickness": 1, "size": 8, "opacity": 1}, "encoding": {"y": {"field": "hi", "type": "quantitative", "title": "facteur d'induction"}}},
     {"mark": {"type": "point", "filled": true, "size": 100, "strokeWidth": 1.5, "opacity": 1}, "encoding": {
       "color": {"field": "s", "type": "nominal", "scale": {"domain": ["ColO","OEC1","c1","b3","b3c1"], "range": ["#000000","#C0504D","#9BBB59","#8064A2","#4BACC6"]},
         "legend": {"orient": "none", "legendX": 280, "legendY": 110, "title": null, "rowPadding": 7, "labelFontStyle": {"expr": "datum.value == 'ColO' ? 'normal' : 'italic'"}}},
       "stroke": {"field": "s", "type": "nominal", "scale": {"domain": ["ColO","OEC1","c1","b3","b3c1"], "range": ["#000000","#C0504D","#9BBB59","#8064A2","#4BACC6"]}},
       "shape": {"field": "s", "type": "nominal", "legend": null, "scale": {"domain": ["ColO","OEC1","c1","b3","b3c1"], "range": ["M0,-0.85L0.85,0L0,0.85L-0.85,0Z","M-1.05,-1.05L1.05,-1.05L1.05,1.05L-1.05,1.05Z","M0,-1.1L1.15,0.9L-1.15,0.9Z","M-0.95,-0.95L0.95,0.95M-0.95,0.95L0.95,-0.95","M-0.95,-0.95L0.95,0.95M-0.95,0.95L0.95,-0.95M0,-1.15L0,1.15"]}}}},
     {"mark": {"type": "line", "strokeWidth": 3}, "encoding": {"color": {"field": "s", "type": "nominal"}}},
     {"mark": {"type": "point", "filled": true, "size": 100, "strokeWidth": 1.5, "opacity": 1}, "encoding": {"color": {"field": "s", "type": "nominal"}, "stroke": {"field": "s", "type": "nominal"}, "shape": {"field": "s", "type": "nominal", "legend": null}}}
    ]
   }
  ], "spacing": 10, "bounds": "flush", "resolve": {"scale": {"x": "independent", "y": "independent", "color": "independent", "stroke": "independent", "shape": "independent"}, "axis": {"x": "independent", "y": "independent"}, "legend": {"color": "independent", "stroke": "independent", "shape": "independent"}}}
 ], "spacing": 10, "resolve": {"scale": {"x": "independent", "y": "independent", "color": "independent", "stroke": "independent", "shape": "independent"}, "axis": {"x": "independent", "y": "independent"}, "legend": {"color": "independent", "stroke": "independent", "shape": "independent"}}}
], "spacing": 228, "resolve": {"scale": {"x": "independent", "y": "independent", "color": "independent", "stroke": "independent", "shape": "independent"}, "axis": {"x": "independent", "y": "independent"}, "legend": {"color": "independent", "stroke": "independent", "shape": "independent"}}}
]
}
